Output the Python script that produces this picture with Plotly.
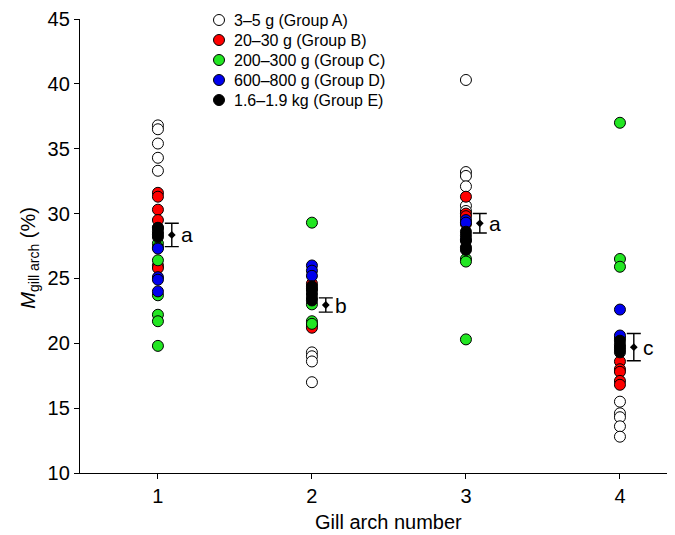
import plotly.graph_objects as go

# ---------------- data ----------------
arches = [1, 2, 3, 4]
tick_labels = ["1", "2", "3", "4"]

group_names = ["3–5 g (Group A)", "20–30 g (Group B)", "200–300 g (Group C)",
               "600–800 g (Group D)", "1.6–1.9 kg (Group E)"]
group_colors = ["#ffffff", "#ff0000", "#22e622", "#0000ee", "#000000"]

# values per gill arch (1..4) for each group
group_A = [
    [36.8, 36.5, 35.4, 34.3, 33.3],
    [19.3, 19.0, 18.6, 17.0],
    [40.3, 33.2, 32.9, 32.1, 30.6, 30.2],
    [15.5, 14.6, 14.3, 13.6, 12.8],
]
group_B = [
    [31.6, 31.3, 30.3, 29.5, 28.9, 26.0, 25.8],
    [24.6, 24.2, 21.4, 21.2],
    [31.3, 30.0, 29.8, 29.2],
    [18.6, 18.0, 17.8, 17.1, 16.8],
]
group_C = [
    [27.7, 27.4, 26.4, 23.7, 22.2, 21.7, 19.8],
    [29.3, 23.0, 21.7, 21.5],
    [26.5, 26.3, 20.3],
    [37.0, 26.5, 25.9, 20.4],
]
group_D = [
    [27.3, 25.1, 24.9, 24.0],
    [26.0, 25.6, 25.2],
    [29.5, 29.3, 28.0],
    [22.6, 20.6],
]
group_E = [
    [28.9, 28.6, 28.4, 28.2],
    [24.4, 24.1, 23.8, 23.5, 23.3],
    [28.6, 28.3, 27.9, 27.4, 27.2],
    [20.2, 19.9, 19.7, 19.5, 19.3],
]
groups = [group_A, group_B, group_C, group_D, group_E]

mean_values = [28.35, 22.95, 29.25, 19.7]
se_values = [0.9, 0.55, 0.75, 1.05]
sig_letters = ["a", "b", "a", "c"]

# ---------------- figure ----------------
FONT = "Liberation Sans, Arial, sans-serif"
fig = go.Figure()

for name, color, data in zip(group_names, group_colors, groups):
    xs, ys = [], []
    for arch, vals in zip(arches, data):
        xs += [arch] * len(vals)
        ys += vals
    fig.add_trace(go.Scatter(
        x=xs, y=ys, mode="markers", name=name, showlegend=False,
        marker=dict(size=11, color=color, line=dict(color="black", width=1)),
    ))

bar_offset = 0.09
fig.add_trace(go.Scatter(
    x=[a + bar_offset for a in arches], y=mean_values, mode="markers",
    showlegend=False,
    marker=dict(symbol="diamond", size=6, color="black"),
    error_y=dict(type="data", array=se_values, color="black", thickness=1.4, width=7),
))

for a, m, letter in zip(arches, mean_values, sig_letters):
    fig.add_annotation(x=a + 0.135, y=m, text=letter, showarrow=False,
                       xanchor="left", yanchor="middle",
                       font=dict(size=21, family=FONT, color="black"))

# legend (drawn as layout decoration: circle + label per group)
leg_marker_x = 0.2348
leg_text_x = 0.2568
for i, (name, color) in enumerate(zip(group_names, group_colors)):
    ly = (453 - 20 * i) / 454
    fig.add_shape(type="circle", xref="paper", yref="paper",
                  xsizemode="pixel", ysizemode="pixel",
                  xanchor=leg_marker_x, yanchor=ly,
                  x0=-5.5, x1=5.5, y0=-5.5, y1=5.5,
                  fillcolor=color, line=dict(color="black", width=1))
    fig.add_annotation(x=leg_text_x, y=ly, xref="paper", yref="paper",
                       text=name, showarrow=False, xanchor="left",
                       yanchor="middle",
                       font=dict(size=16, family=FONT, color="black"))

# axis titles
fig.add_annotation(x=2.5, y=-0.108, xref="x", yref="paper",
                   text="Gill arch number", showarrow=False,
                   xanchor="center", yanchor="middle",
                   font=dict(size=20, family=FONT, color="black"))
fig.add_annotation(x=-0.0845, y=26.6, xref="paper", yref="y",
                   text="<i>M</i><sub>gill arch</sub> (%)", showarrow=False,
                   textangle=-90, xanchor="center", yanchor="middle",
                   font=dict(size=20, family=FONT, color="black"))

fig.update_layout(
    width=675, height=535,
    margin=dict(l=72, r=11, t=11, b=70, autoexpand=False),
    plot_bgcolor="white", paper_bgcolor="white",
    font=dict(family=FONT, size=20, color="black"),
    showlegend=False,
    xaxis=dict(range=[0.494, 4.338], tickmode="array", tickvals=arches,
               ticktext=tick_labels, showline=True, linecolor="black",
               linewidth=1.3, ticks="outside", ticklen=5, tickwidth=1.3,
               tickcolor="black", showgrid=False, zeroline=False,
               tickfont=dict(size=20)),
    yaxis=dict(range=[10, 45], dtick=5, tick0=10, showline=True,
               linecolor="black", linewidth=1.3, ticks="outside", ticklen=5,
               tickwidth=1.3, tickcolor="black", showgrid=False, zeroline=False,
               tickfont=dict(size=20)),
)

fig.write_html("out.html")
